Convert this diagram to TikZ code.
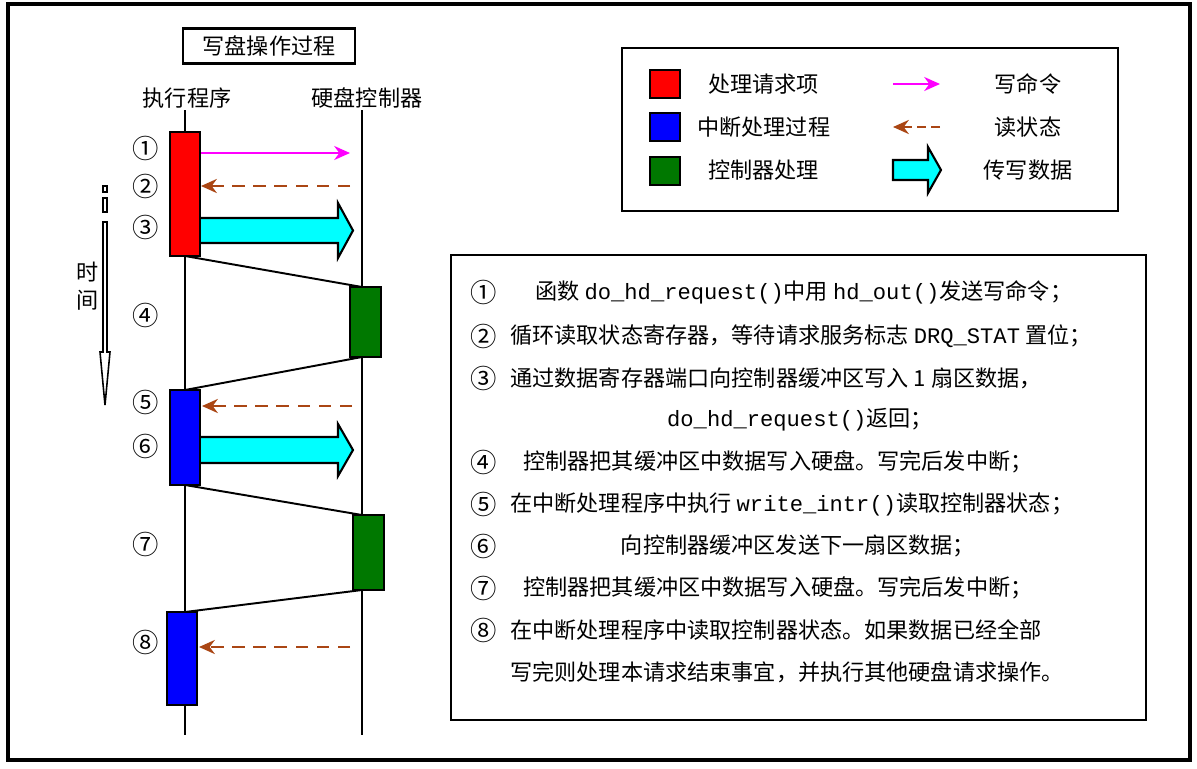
\documentclass[tikz,border=0pt]{standalone}
\usepackage{fontspec}
\setmainfont{Noto Sans CJK SC}
\newfontfamily\codefont{Liberation Mono}
\usetikzlibrary{arrows.meta}
\definecolor{pinkc}{RGB}{255,0,255}
\definecolor{brownc}{RGB}{170,70,20}
\definecolor{greenc}{RGB}{0,120,0}
\definecolor{cyanc}{RGB}{0,255,255}
\newcommand{\cd}[1]{{\codefont #1}}
\begin{document}
\begin{tikzpicture}[x=0.02cm,y=-0.02cm,
  txt/.style={font=\fontsize{12.6}{14}\selectfont, inner sep=0},
  num/.style={font=\fontsize{15}{16}\selectfont, inner sep=0},
  bar/.style={draw=black, line width=1.2pt},
  life/.style={line width=1.1pt},
  cmd/.style={pinkc, line width=1.2pt, -{Stealth[length=9pt,width=8pt]}},
  rd/.style={brownc, line width=1.5pt, dash pattern=on 7pt off 5pt, -{Stealth[length=9pt,width=8pt]}},
  dat/.style={line width=1.2pt, fill=cyanc}]
\useasboundingbox (0,0) rectangle (1197,768);
\draw[line width=1.8pt] (8,4) rectangle (1190,760);
\node[draw, line width=1.2pt, txt, minimum width=172*0.02cm, minimum height=35*0.02cm] (title) at (269,46) {写盘操作过程};
\node[txt] (lp) at (187,98) {执行程序};
\node[txt] (lc) at (367,98) {硬盘控制器};
\coordinate (pt) at (185,110); \coordinate (pb) at (185,735);
\coordinate (ct) at (362,110); \coordinate (cb) at (362,735);
\draw[life] (pt) -- (pb); \draw[life] (ct) -- (cb);
\draw[life] (185,256) -- (362,287);
\draw[life] (362,357) -- (185,390);
\draw[life] (185,485) -- (362,515);
\draw[life] (362,590) -- (185,612);
\path[bar, fill=red] (170,132) rectangle (200,256);
\path[bar, fill=greenc] (350,287) rectangle (381,357);
\path[bar, fill=blue] (170,390) rectangle (200,485);
\path[bar, fill=greenc] (353,515) rectangle (384,590);
\path[bar, fill=blue] (167,612) rectangle (197,705);
\coordinate (a1s) at (201,153); \coordinate (a1e) at (350,153);
\draw[cmd] (a1s) -- (a1e);
\coordinate (a2s) at (350,186); \coordinate (a2e) at (201,186);
\draw[rd] (a2s) -- (a2e);
\draw[dat] (201,218) -- (338,218) -- (338,203) -- (353,230.5) -- (338,258) -- (338,243) -- (201,243);
\coordinate (a5s) at (352,406); \coordinate (a5e) at (202,406);
\draw[rd] (a5s) -- (a5e);
\draw[dat] (201,437) -- (338,437) -- (338,424) -- (353,450) -- (338,476) -- (338,463) -- (201,463);
\coordinate (a8s) at (350,647); \coordinate (a8e) at (199,647);
\draw[rd] (a8s) -- (a8e);
\foreach \n/\y in {①/148,②/186,③/227,④/315,⑤/402,⑥/446,⑦/544,⑧/642}
  \node[num] at (146,\y) {\n};
\draw[line width=0.9pt] (103,186) rectangle (107,192);
\draw[line width=0.9pt] (103,198) rectangle (107,212);
\draw[line width=0.9pt, fill=white] (103,222) -- (107,222) -- (107,352) -- (110,352) -- (105,405) -- (100,352) -- (103,352) -- cycle;
\node[txt] at (88,272) {时};
\node[txt] at (88,300) {间};
\draw[line width=1.4pt] (622,48) rectangle (1118,211);
\draw[bar, fill=red] (650,70) rectangle (680,98);
\draw[bar, fill=blue] (650,113) rectangle (680,141);
\draw[bar, fill=greenc] (650,157) rectangle (680,185);
\node[txt, anchor=west] at (708,84) {处理请求项};
\node[txt, anchor=west] at (697,127) {中断处理过程};
\node[txt, anchor=west] at (708,170) {控制器处理};
\coordinate (l1s) at (893,84); \coordinate (l1e) at (940,84);
\draw[cmd] (l1s) -- (l1e);
\coordinate (l2s) at (940,127); \coordinate (l2e) at (893,127);
\draw[rd, dash pattern=on 5pt off 3pt] (l2s) -- (l2e);
\draw[dat] (893,160) -- (928,160) -- (928,147) -- (941,170) -- (928,193) -- (928,180) -- (893,180) -- cycle;
\node[txt] at (1028,84) {写命令};
\node[txt] at (1028,127) {读状态};
\node[txt] at (1028,170) {传写数据};
\draw[line width=1.4pt] (451,255) rectangle (1146,720);
\foreach \n/\y in {①/292,②/336,③/378,④/462,⑤/504,⑥/546,⑦/588,⑧/630}
  \node[num] at (484,\y) {\n};
\node[txt, anchor=west] at (535,292) {函数 \cd{do\_hd\_request()}中用 \cd{hd\_out()}发送写命令；};
\node[txt, anchor=west] at (510,336) {循环读取状态寄存器，等待请求服务标志 \cd{DRQ\_STAT} 置位；};
\node[txt, anchor=west] at (510,378) {通过数据寄存器端口向控制器缓冲区写入 1 扇区数据，};
\node[txt] at (800,420) {\cd{do\_hd\_request()}返回；};
\node[txt, anchor=west] at (523,462) {控制器把其缓冲区中数据写入硬盘。写完后发中断；};
\node[txt, anchor=west] at (510,504) {在中断处理程序中执行 \cd{write\_intr()}读取控制器状态；};
\node[txt] at (798,546) {向控制器缓冲区发送下一扇区数据；};
\node[txt, anchor=west] at (523,588) {控制器把其缓冲区中数据写入硬盘。写完后发中断；};
\node[txt, anchor=west] at (510,630) {在中断处理程序中读取控制器状态。如果数据已经全部};
\node[txt, anchor=west] at (510,672) {写完则处理本请求结束事宜，并执行其他硬盘请求操作。};
\end{tikzpicture}
\end{document}
